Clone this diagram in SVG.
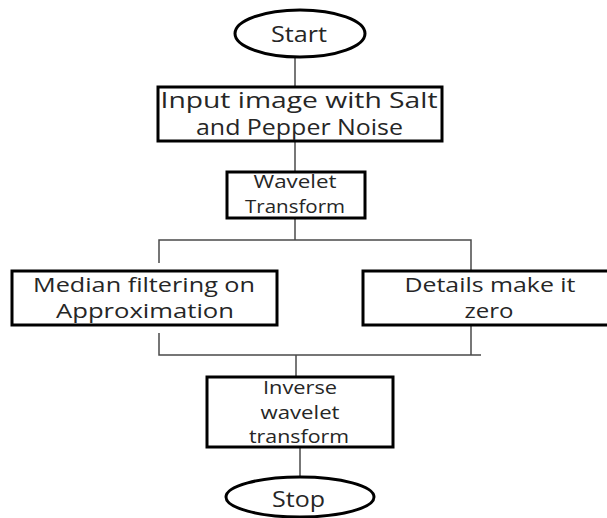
<svg xmlns="http://www.w3.org/2000/svg" width="607" height="518" viewBox="0 0 607 518">
<style>
.box{fill:#fff;stroke:#000;stroke-width:3}
.con{fill:none;stroke:#4a4a4a;stroke-width:1.5}
text{font-family:"Open Sans","Liberation Sans",sans-serif;fill:#262626;text-anchor:middle}
.t22{font-size:22px}
.t21{font-size:20px}
.t20{font-size:21px}
.t18{font-size:18px}
</style>
<rect width="607" height="518" fill="#fff"/>
<g id="connectors">
<path class="con" d="M295 57V87"/>
<path class="con" d="M295 141V172"/>
<path class="con" d="M295 218V240"/>
<path class="con" d="M159 263V240H471V271"/>
<path class="con" d="M159 333V355H481"/>
<path class="con" d="M471 325V355"/>
<path class="con" d="M296 355V377"/>
<path class="con" d="M300 447V477"/>
</g>
<g id="start">
<ellipse class="box" cx="300" cy="33.5" rx="65" ry="23.5"/>
<text class="t22" x="299" y="42" textLength="56" lengthAdjust="spacingAndGlyphs">Start</text>
</g>
<g id="input">
<rect class="box" x="158" y="87" width="284" height="54"/>
<text class="t20" x="299" y="108" textLength="277" lengthAdjust="spacingAndGlyphs">Input image with Salt</text>
<text class="t20" x="299.5" y="135" textLength="207" lengthAdjust="spacingAndGlyphs">and Pepper Noise</text>
</g>
<g id="wavelet">
<rect class="box" x="227" y="172" width="138" height="46"/>
<text class="t18" x="295" y="188" textLength="83" lengthAdjust="spacingAndGlyphs">Wavelet</text>
<text class="t18" x="295" y="213" textLength="100" lengthAdjust="spacingAndGlyphs">Transform</text>
</g>
<g id="median">
<rect class="box" x="12" y="271" width="265" height="54"/>
<text class="t21" x="144" y="292" textLength="222" lengthAdjust="spacingAndGlyphs">Median filtering on</text>
<text class="t21" x="145" y="318" textLength="178" lengthAdjust="spacingAndGlyphs">Approximation</text>
</g>
<g id="details">
<rect class="box" x="363" y="271" width="250" height="54"/>
<text class="t21" x="490" y="292" textLength="171" lengthAdjust="spacingAndGlyphs">Details make it</text>
<text class="t21" x="489" y="318" textLength="49" lengthAdjust="spacingAndGlyphs">zero</text>
</g>
<g id="inverse">
<rect class="box" x="207" y="377" width="186" height="70"/>
<text class="t18" x="300" y="394" textLength="74" lengthAdjust="spacingAndGlyphs">Inverse</text>
<text class="t18" x="300" y="419" textLength="79" lengthAdjust="spacingAndGlyphs">wavelet</text>
<text class="t18" x="299" y="443" textLength="100" lengthAdjust="spacingAndGlyphs">transform</text>
</g>
<g id="stop">
<ellipse class="box" cx="300" cy="497" rx="74" ry="20"/>
<text class="t22" x="298.5" y="507" textLength="53" lengthAdjust="spacingAndGlyphs">Stop</text>
</g>
</svg>
